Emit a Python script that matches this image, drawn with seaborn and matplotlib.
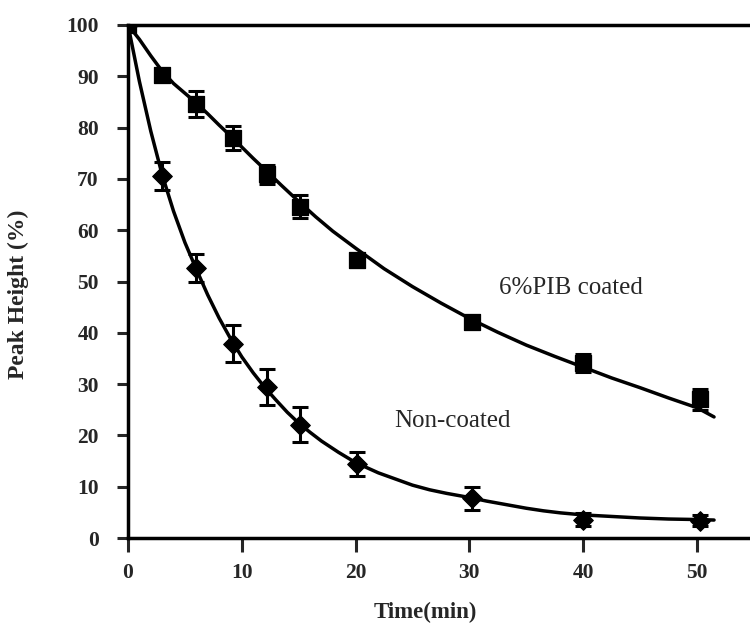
import matplotlib
matplotlib.use("Agg")
import matplotlib.pyplot as plt
import seaborn as sns
import pandas as pd

# Measured data
time_pts = [0, 3, 6, 9.2, 12.2, 15.1, 20.1, 30.2, 40, 50.3]
coated = [100, 90.2, 84.6, 78.0, 70.9, 64.6, 54.1, 42.2, 34.1, 27.0]
coated_err = [0.6, 1.0, 2.6, 2.4, 1.8, 2.2, 1.2, 0.8, 1.8, 2.0]
noncoated = [100, 70.6, 52.6, 37.9, 29.4, 22.1, 14.4, 7.7, 3.6, 3.4]
noncoated_err = [0.6, 2.7, 2.7, 3.6, 3.5, 3.4, 2.4, 2.3, 1.2, 1.0]

# Fitted curves
coated_fit_t = [0, 1, 2, 3, 4, 5, 6, 7, 8, 9, 10, 11, 12, 13.5, 15, 16.5, 18, 20, 22.5, 25, 27.5, 30,
                32.5, 35, 37.5, 40, 42.5, 45, 47.5, 50, 51.5]
coated_fit_y = [100, 97.2, 94.0, 91.0, 88.6, 86.7, 84.8, 82.7, 80.5, 78.4, 76.2, 74.0, 71.9, 68.7,
                65.6, 62.6, 59.8, 56.5, 52.5, 49.0, 45.8, 42.8, 40.1, 37.6, 35.4, 33.3, 31.2,
                29.3, 27.3, 25.4, 23.6]
non_fit_t = [0, 1, 2, 3, 4, 5, 6, 7, 8, 9, 10, 11, 12, 13, 14, 15, 16, 17, 18.5, 20, 22, 23.5, 25,
             26.5, 28, 30, 31.5, 33, 35, 36.5, 38, 40, 42.5, 45, 47.5, 50, 51.5]
non_fit_y = [100, 89.0, 79.3, 70.8, 63.7, 57.6, 52.4, 47.4, 42.9, 38.9, 35.3, 32.2, 29.4, 26.9, 24.5,
             22.4, 20.6, 18.9, 16.7, 14.7, 12.7, 11.5, 10.3, 9.4, 8.7, 7.9, 7.2, 6.6, 5.8, 5.3,
             4.9, 4.5, 4.2, 3.9, 3.7, 3.6, 3.5]

x_ticks = [0, 10, 20, 30, 40, 50]
y_ticks = [0, 10, 20, 30, 40, 50, 60, 70, 80, 90, 100]

sns.set_style("ticks")
plt.rcParams['font.family'] = ['Liberation Serif', 'DejaVu Serif']

fig = plt.figure(figsize=(7.5, 6.25), dpi=100)
ax = fig.add_axes([0.1707, 0.1392, 0.8293, 0.8208])

df_cf = pd.DataFrame({"t": coated_fit_t, "y": coated_fit_y})
df_nf = pd.DataFrame({"t": non_fit_t, "y": non_fit_y})
sns.lineplot(data=df_cf, x="t", y="y", ax=ax, color="black", lw=2.5, sort=False)
sns.lineplot(data=df_nf, x="t", y="y", ax=ax, color="black", lw=2.5, sort=False)

ax.errorbar(time_pts, coated, yerr=coated_err, fmt="none", ecolor="black",
            elinewidth=2.2, capsize=6, capthick=2.2)
ax.errorbar(time_pts, noncoated, yerr=noncoated_err, fmt="none", ecolor="black",
            elinewidth=2.2, capsize=6, capthick=2.2)

df_c = pd.DataFrame({"t": time_pts, "y": coated})
df_n = pd.DataFrame({"t": time_pts, "y": noncoated})
sns.scatterplot(data=df_c, x="t", y="y", ax=ax, marker="s", s=130, color="black",
                edgecolor="black", zorder=5)
sns.scatterplot(data=df_n, x="t", y="y", ax=ax, marker="D", s=100, color="black",
                edgecolor="black", zorder=5)

ax.set_xlim(0, 54.66)
ax.set_ylim(0, 100)
ax.set_xticks(x_ticks)
ax.set_yticks(y_ticks)
ax.set_xticklabels([str(v) for v in x_ticks], fontsize=15.5, fontweight="bold")
ax.set_yticklabels([str(v) for v in y_ticks], fontsize=15.5, fontweight="bold")
ax.tick_params(axis="x", direction="out", length=10, width=2.2, pad=8)
ax.tick_params(axis="y", direction="out", length=8, width=2.2, pad=13)

for s in ["left", "bottom", "top"]:
    ax.spines[s].set_linewidth(2.5)
    ax.spines[s].set_color("black")
ax.spines["right"].set_visible(False)

ax.set_xlabel("")
ax.set_ylabel("")
fig.text(425 / 750, 1 - 612 / 625, "Time(min)", ha="center", va="center",
         fontsize=16.5, fontweight="bold")
fig.text(18 / 750, 1 - 294 / 625, "Peak Height (%)", ha="center", va="center",
         rotation=90, fontsize=17, fontweight="bold")

ax.text(38.9, 48.7, "6%PIB coated", ha="center", va="center", fontsize=18)
ax.text(28.5, 22.8, "Non-coated", ha="center", va="center", fontsize=18)

fig.savefig("out.png", dpi=100)
